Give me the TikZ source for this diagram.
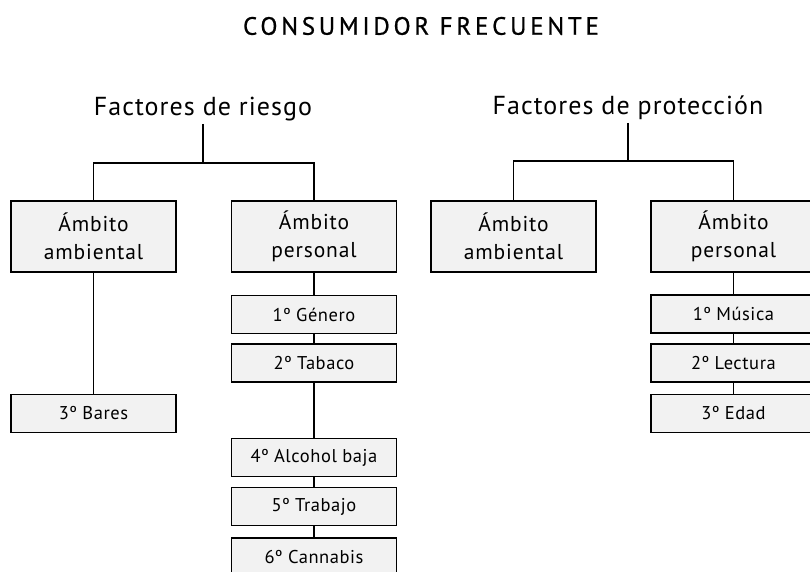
\documentclass[tikz,border=0pt]{standalone}
\usepackage{fontspec}
\setmainfont{PT Sans}
\definecolor{boxfill}{HTML}{F2F2F2}
\begin{document}
\begin{tikzpicture}[x=1pt,y=-1pt,
  every node/.style={font=\fontsize{16}{18}\selectfont},
  heading/.style={inner sep=3pt,anchor=south,font=\addfontfeature{LetterSpace=4}\fontsize{26}{28}\selectfont},
  bigbox/.style={draw,fill=boxfill,line width=1.3pt,minimum width=165pt,minimum height=71pt,inner sep=0pt,align=center,font=\addfontfeature{LetterSpace=4}\fontsize{21.5}{28}\selectfont},
  itembox/.style={draw,fill=boxfill,line width=1.3pt,minimum width=165pt,minimum height=38pt,inner sep=0pt,font=\addfontfeature{LetterSpace=3}\fontsize{18.5}{20}\selectfont},
  conn/.style={line width=1.3pt}]
\useasboundingbox (0,0) rectangle (810,572);
\clip (0,0) rectangle (810,572);
\fill[white] (0,0) rectangle (810,572);
% title
\node[font=\addfontfeature{LetterSpace=15,FakeBold=0.8}\fontsize{25}{27}\selectfont] (title) at (421,26) {CONSUMIDOR FRECUENTE};
% headings
\node[heading] (riesgo) at (203,124) {Factores de riesgo};
\node[heading] (prot) at (628,123) {Factores de protección};
% risk boxes
\node[bigbox] (ramb) at (93.5,236.5) {Ámbito\\ambiental};
\node[bigbox] (rper) at (314,236.5) {Ámbito\\personal};
\node[itembox] (bares) at (93.5,413.5) {3º Bares};
\node[itembox] (gen) at (314,314.5) {1º Género};
\node[itembox] (tab) at (314,363) {2º Tabaco};
\node[itembox] (alc) at (314,457.5) {4º Alcohol baja};
\node[itembox] (trab) at (314,506.5) {5º Trabajo};
\node[itembox] (cann) at (314,557) {6º Cannabis};
% protection boxes
\node[bigbox] (pamb) at (513.5,236.5) {Ámbito\\ambiental};
\node[bigbox] (pper) at (733.5,236.5) {Ámbito\\personal};
\node[itembox] (mus) at (733.5,314) {1º Música};
\node[itembox] (lec) at (733.5,363) {2º Lectura};
\node[itembox] (edad) at (733.5,413.5) {3º Edad};
% connectors
\draw[conn] (riesgo.south) -- ++(0,39) coordinate (rj);
\draw[conn] (ramb.north) |- (rj) -| (rper.north);
\draw[conn] (prot.south) -- ++(0,38) coordinate (pj);
\draw[conn] (pamb.north) |- (pj) -| (pper.north);
\draw[conn] (ramb) -- (bares);
\draw[conn] (rper) -- (gen);
\draw[conn] (gen) -- (tab);
\draw[conn] (tab) -- (alc);
\draw[conn] (alc) -- (trab);
\draw[conn] (trab) -- (cann);
\draw[conn] (pper) -- (mus);
\draw[conn] (mus) -- (lec);
\draw[conn] (lec) -- (edad);
\end{tikzpicture}
\end{document}
